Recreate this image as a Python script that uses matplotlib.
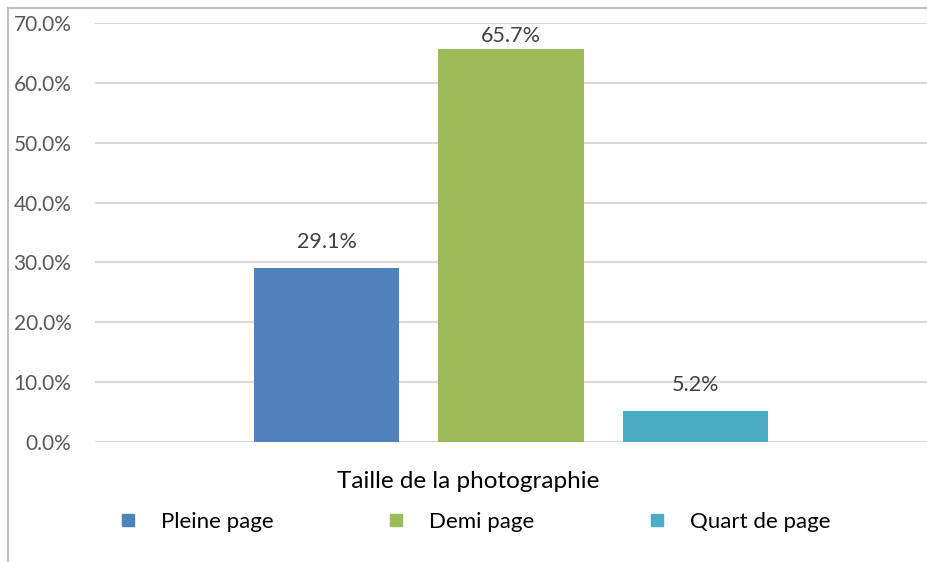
import matplotlib.pyplot as plt
from matplotlib.lines import Line2D

plt.rcParams['font.family'] = ['Lato', 'DejaVu Sans']

series = ["Pleine page", "Demi page", "Quart de page"]
values = [29.1, 65.7, 5.2]
colors = ["#4F81BD", "#9BBB59", "#4BACC6"]
category = "Taille de la photographie"
yticks = [0, 10, 20, 30, 40, 50, 60, 70]

fig = plt.figure(figsize=(9.28, 5.62), dpi=100)
ax = fig.add_axes([95 / 928, 1 - 442 / 562, 832 / 928, (442 - 23) / 562])

positions = [-1, 0, 1]
for pos, val, col, name in zip(positions, values, colors, series):
    ax.bar(pos, val, width=0.79, color=col, label=name, zorder=3)
    # labels that would leave the plot area are pushed back inside (as in Excel)
    ax.text(pos, min(val + 4.3, 67.8), f"{val:.1f}%", ha="center", va="center",
            fontsize=15.5, color="#404040")

ax.set_xlim(-2.255, 2.255)
ax.set_ylim(0, 70)
ax.set_yticks(yticks)
ax.set_yticklabels([f"{t:.1f}%" for t in yticks], fontsize=15, color="#595959")
ax.tick_params(axis="y", length=0, pad=17)
ax.set_xticks([])
ax.grid(axis="y", color="#D9D9D9", linewidth=1.5, zorder=0)
for s in ax.spines.values():
    s.set_visible(False)
ax.axhline(0, color="#D9D9D9", linewidth=1.5, zorder=2)

ax.text(0.448, -0.095, category, transform=ax.transAxes, ha="center",
        va="center", fontsize=17.5, color="#000000")

handles = [Line2D([], [], marker="s", linestyle="none", markersize=9,
                  markerfacecolor=c, markeredgecolor=c) for c in colors]
fig.legend(handles, series, loc="center", bbox_to_anchor=(468 / 928, 1 - 522 / 562),
           ncol=3, frameon=False, fontsize=16, handlelength=2, handletextpad=0.5,
           columnspacing=4.5, labelcolor="#000000")

# chart border (partially cropped in the original)
fig.add_artist(Line2D([8 / 928, 8 / 928], [0, 1 - 8 / 562], transform=fig.transFigure,
                      color="#BFBFBF", linewidth=1.5))
fig.add_artist(Line2D([8 / 928, 1], [1 - 8 / 562, 1 - 8 / 562], transform=fig.transFigure,
                      color="#BFBFBF", linewidth=1.5))

fig.savefig("out.png", dpi=100)
